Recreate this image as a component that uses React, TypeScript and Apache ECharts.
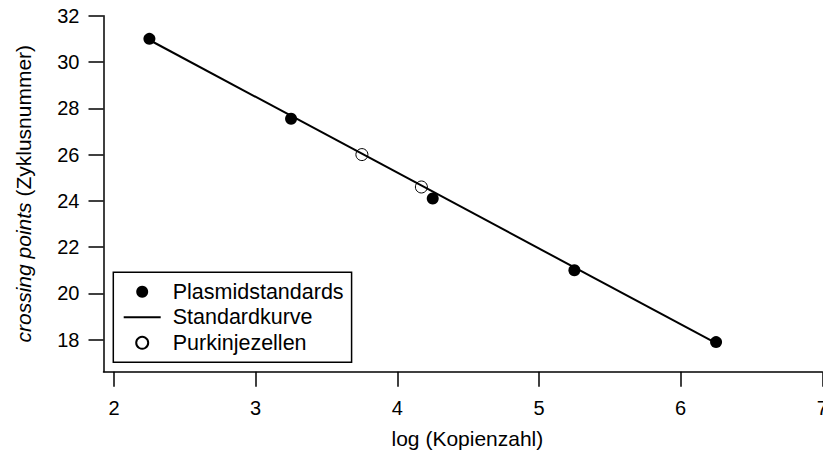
import React, { useEffect, useRef } from "react";
import * as echarts from "echarts";

const xTicks = [2, 3, 4, 5, 6, 7];
const yTicks = [18, 20, 22, 24, 26, 28, 30, 32];
const plasmidX = [2.25, 3.25, 4.25, 5.25, 6.25];
const plasmidY = [31.0, 27.55, 24.1, 21.0, 17.9];
const curveX = [2.25, 6.25];
const curveY = [30.95, 17.85];
const purkinjeX = [3.75, 4.17];
const purkinjeY = [26.0, 24.6];
const seriesNames = ["Plasmidstandards", "Standardkurve", "Purkinjezellen"];

const FONT = "'Liberation Sans', Arial, Helvetica, sans-serif";

export default function App() {
  const ref = useRef<HTMLDivElement>(null);
  useEffect(() => {
    if (!ref.current) return;
    const chart = echarts.init(ref.current, undefined, { renderer: "svg" });
    const zip = (xs: number[], ys: number[]) => xs.map((x, i) => [x, ys[i]]);
    chart.setOption({
      animation: false,
      backgroundColor: "#fff",
      textStyle: { fontFamily: FONT, color: "#000" },
      grid: {
        left: 103.5,
        top: 15.7,
        right: 0.7,
        bottom: 80.3,
        containLabel: false,
        outerBoundsMode: "none",
      },
      xAxis: {
        type: "value",
        min: 1.926,
        max: 7.0,
        name: "log (Kopienzahl)",
        nameLocation: "middle",
        nameGap: 56,
        nameTextStyle: { fontSize: 21, color: "#000", fontFamily: FONT, padding: [0, 0, 0, 9] },
        axisLine: { show: true, lineStyle: { color: "#000", width: 1.5 } },
        axisTick: { show: true, length: 15, lineStyle: { color: "#000", width: 1.5 }, customValues: xTicks },
        axisLabel: { fontSize: 20, color: "#000", margin: 26, fontFamily: FONT, customValues: xTicks },
        splitLine: { show: false },
      },
      yAxis: {
        type: "value",
        min: 16.62,
        max: 32,
        name: "{it|crossing points} (Zyklusnummer)",
        nameLocation: "middle",
        nameGap: 70,
        nameTextStyle: {
          fontSize: 21,
          color: "#000",
          fontFamily: FONT,
          rich: { it: { fontStyle: "italic", fontSize: 21, color: "#000", fontFamily: FONT } },
        },
        axisLine: { show: true, lineStyle: { color: "#000", width: 1.5 } },
        axisTick: { show: true, length: 15, lineStyle: { color: "#000", width: 1.5 }, customValues: yTicks },
        axisLabel: { fontSize: 20, color: "#000", margin: 24, fontFamily: FONT, customValues: yTicks },
        splitLine: { show: false },
      },
      legend: {
        orient: "vertical",
        left: 113.3,
        top: 272.3,
        data: [
          { name: seriesNames[0] },
          {
            name: seriesNames[1],
            itemStyle: { color: "rgba(0,0,0,0)", borderColor: "rgba(0,0,0,0)", borderWidth: 0, opacity: 0 },
          },
          { name: seriesNames[2] },
        ],
        itemWidth: 37,
        itemHeight: 12,
        itemGap: 3.5,
        padding: [8.5, 8, 8.5, 9.4],
        borderColor: "#000",
        borderWidth: 1.5,
        borderRadius: 0,
        backgroundColor: "#fff",
        textStyle: { fontSize: 21.5, lineHeight: 21, color: "#000", fontFamily: FONT, padding: [0, 0, 0, 7] },
      },
      series: [
        {
          name: seriesNames[1],
          type: "line",
          data: zip(curveX, curveY),
          symbol: "none",
          lineStyle: { color: "#000", width: 2 },
          itemStyle: { color: "#000" },
          z: 1,
        },
        {
          name: seriesNames[0],
          type: "scatter",
          data: zip(plasmidX, plasmidY),
          symbol: "circle",
          symbolSize: 12,
          itemStyle: { color: "#000", opacity: 1 },
          z: 3,
        },
        {
          name: seriesNames[2],
          type: "scatter",
          data: zip(purkinjeX, purkinjeY),
          symbol: "circle",
          symbolSize: 12,
          itemStyle: { color: "rgba(255,255,255,0)", borderColor: "#000", borderWidth: 1, opacity: 1 },
          z: 3,
        },
      ],
    });
    return () => chart.dispose();
  }, []);
  return (
    <div
      ref={ref}
      style={{ position: "fixed", left: 0, top: 0, width: 823, height: 452, background: "#fff" }}
    />
  );
}
